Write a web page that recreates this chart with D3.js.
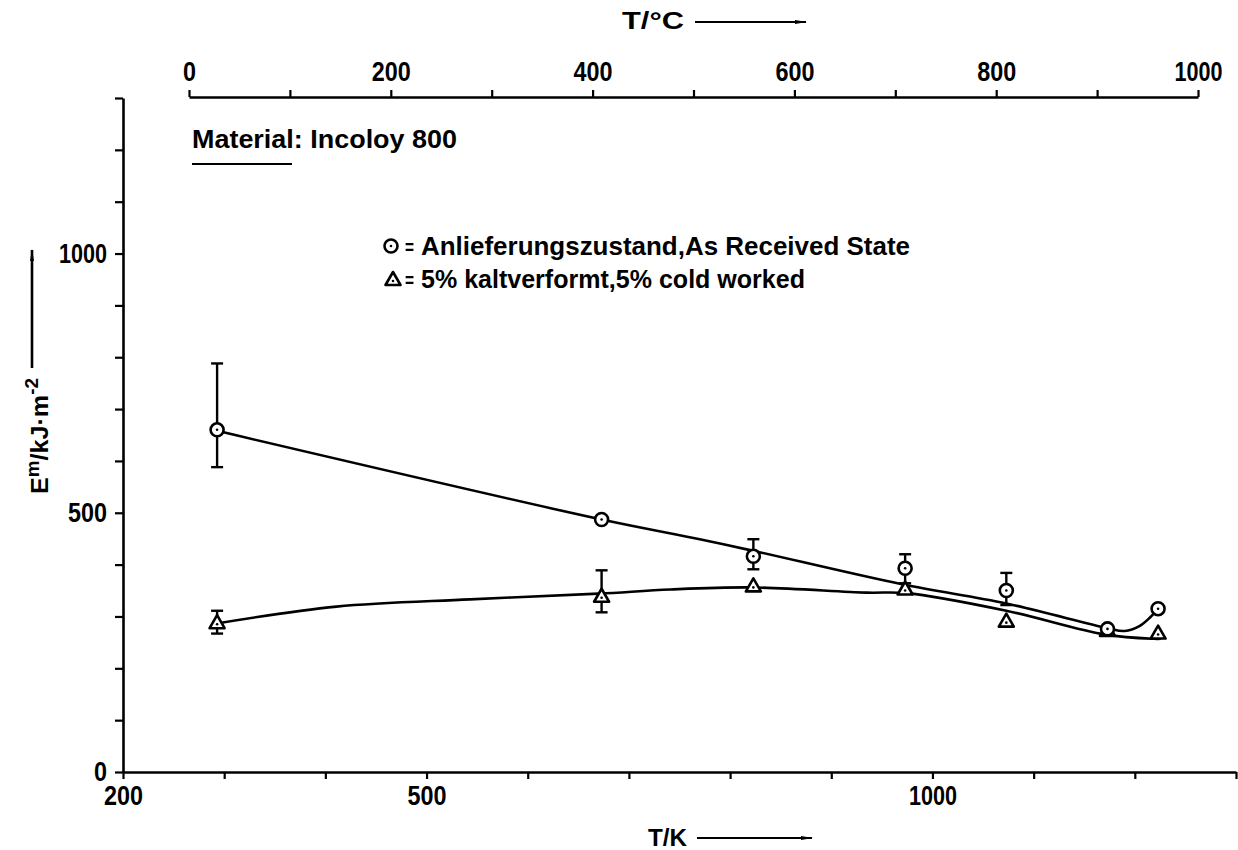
<html>
<head>
  <script src="https://d3js.org/d3.v7.min.js"></script>
  <style>
  body { margin: 0; background: #fff; }
  text { font-family: "Liberation Sans", Arial, sans-serif; font-weight: bold; fill: #000; }
  .axis path, .axis line { stroke: #000; }
  </style>
</head>
<body>
<svg width="1238" height="850"></svg>
<script>
// test temperatures in K (20, 400, 550, 700, 800, 900, 950 degC)
var tempK = [293, 673, 823, 973, 1073, 1173, 1223];

// as received state (circles)
var recv    = [660, 487, 416, 393, 350, 276, 315];
var recvHi  = [788, null, 449, 420, 384, null, null];
var recvLo  = [588, null, 391, 364, 322, null, null];
// 5% cold worked (triangles)
var cold    = [287, 338, 358, 352, 290, 272, 267];
var coldHi  = [311, 389, null, null, null, null, null];
var coldLo  = [267, 308, null, null, null, null, null];

// hand drawn fit curves [K, value]
var recvCurve = [[293,658],[673,487],[770,449],[822,427],[970,362],[1073,325],[1172,278],[1190,272],[1205,282],[1215,298],[1223,315]];
var coldCurve = [[291,286],[411,319],[543,333],[670,344],[741,352],[822,356],[935,346],[974,345],[1073,311],[1171,265],[1219,257],[1226,257]];

var kTicks = d3.range(200, 1301, 100);
var kLabels = [200, 500, 1000];
var cTicks = d3.range(0, 1001, 100);
var cLabels = [0, 200, 400, 600, 800, 1000];
var yTicks = d3.range(0, 1301, 100);
var yLabels = [0, 500, 1000];

var svg = d3.select("svg");
var xK = d3.scaleLinear().domain([200, 1300]).range([123, 1236]);
var xC = d3.scaleLinear().domain([0, 1000]).range([189, 1198]);
var y = d3.scaleLinear().domain([0, 1300]).range([772, 98]);

// narrow, tall lettering like the original typesetting
function squeeze(sel, w) {
  sel.attr("textLength", w).attr("lengthAdjust", "spacingAndGlyphs");
}

function styleAxis(g) {
  g.attr("class", "axis");
  g.select(".domain").attr("stroke-width", 2.6);
  g.selectAll(".tick line").attr("stroke-width", 2.2);
  g.selectAll("text").attr("font-size", 27).attr("font-family", null)
    .each(function(){
      var s = d3.select(this), t = s.text();
      if (t.length) squeeze(s, 13 * t.length - (t[0] == "1" ? 4 : 0));
    });
}

svg.append("g").attr("transform", "translate(0,772)")
  .call(d3.axisBottom(xK).tickValues(kTicks).tickSize(7).tickSizeOuter(0).tickPadding(7)
    .tickFormat(function(d){ return kLabels.indexOf(d) >= 0 ? d : ""; }))
  .call(styleAxis);

svg.append("g").attr("transform", "translate(0,97)")
  .call(d3.axisTop(xC).tickValues(cTicks).tickSize(7).tickSizeOuter(0).tickPadding(9)
    .tickFormat(function(d){ return cLabels.indexOf(d) >= 0 ? d : ""; }))
  .call(styleAxis);

svg.append("g").attr("transform", "translate(" + xK(200) + ",0)")
  .call(d3.axisLeft(y).tickValues(yTicks).tickSize(8).tickSizeOuter(0).tickPadding(8)
    .tickFormat(function(d){ return yLabels.indexOf(d) >= 0 ? d : ""; }))
  .call(styleAxis);

// arrowheads
svg.append("defs").append("marker").attr("id", "arr")
  .attr("viewBox", "0 0 12 6").attr("refX", 11).attr("refY", 3)
  .attr("markerWidth", 12).attr("markerHeight", 6).attr("markerUnits", "userSpaceOnUse")
  .attr("orient", "auto")
  .append("path").attr("d", "M0,1 L12,3 L0,5 Z").attr("fill", "#000");

// axis titles
svg.append("text").attr("x", 622).attr("y", 29).attr("font-size", 24).text("T/°C")
  .call(squeeze, 62);
svg.append("line").attr("x1", 695).attr("x2", 806).attr("y1", 22).attr("y2", 22)
  .attr("stroke", "#000").attr("stroke-width", 2).attr("marker-end", "url(#arr)");

svg.append("text").attr("x", 648).attr("y", 846).attr("font-size", 24).text("T/K")
  .call(squeeze, 39);
svg.append("line").attr("x1", 697).attr("x2", 812).attr("y1", 838).attr("y2", 838)
  .attr("stroke", "#000").attr("stroke-width", 2).attr("marker-end", "url(#arr)");

var yt = svg.append("text").attr("transform", "translate(48,494) rotate(-90)").attr("font-size", 24);
yt.append("tspan").text("E");
yt.append("tspan").attr("dy", -9).attr("font-size", 18).text("m");
yt.append("tspan").attr("dy", 9).text("/kJ·m");
yt.append("tspan").attr("dy", -10).attr("font-size", 18).text("-2");
yt.call(squeeze, 116);
svg.append("line").attr("x1", 32).attr("x2", 32).attr("y1", 368).attr("y2", 250)
  .attr("stroke", "#000").attr("stroke-width", 2.6).attr("marker-end", "url(#arr)");

// material note
svg.append("text").attr("x", 192).attr("y", 148).attr("font-size", 25)
  .text("Material: Incoloy 800").call(squeeze, 265);
svg.append("line").attr("x1", 192).attr("x2", 292).attr("y1", 164).attr("y2", 164)
  .attr("stroke", "#000").attr("stroke-width", 1.8);

// fit curves
var line = d3.line().x(function(d){ return xK(d[0]); }).y(function(d){ return y(d[1]); })
  .curve(d3.curveCatmullRom.alpha(0.5));
[recvCurve, coldCurve].forEach(function(c){
  svg.append("path").attr("d", line(c)).attr("fill", "none")
    .attr("stroke", "#000").attr("stroke-width", 2.6);
});

// error bars
function errorBars(hi, lo) {
  tempK.forEach(function(t, i){
    if (hi[i] == null) return;
    var x = xK(t);
    var g = svg.append("g").attr("stroke", "#000").attr("stroke-width", 2.4);
    g.append("line").attr("x1", x).attr("x2", x).attr("y1", y(hi[i])).attr("y2", y(lo[i]));
    g.append("line").attr("x1", x - 6).attr("x2", x + 6).attr("y1", y(hi[i])).attr("y2", y(hi[i]));
    g.append("line").attr("x1", x - 6).attr("x2", x + 6).attr("y1", y(lo[i])).attr("y2", y(lo[i]));
  });
}
errorBars(recvHi, recvLo);
errorBars(coldHi, coldLo);

function circleMark(x, yy) {
  svg.append("circle").attr("cx", x).attr("cy", yy).attr("r", 6.5)
    .attr("fill", "#fff").attr("stroke", "#000").attr("stroke-width", 2.6);
  svg.append("circle").attr("cx", x).attr("cy", yy).attr("r", 1.3).attr("fill", "#000");
}
function triMark(x, yy) {
  svg.append("path").attr("d", "M" + x + "," + (yy - 8) + " L" + (x + 7.5) + "," + (yy + 5) + " L" + (x - 7.5) + "," + (yy + 5) + " Z")
    .attr("fill", "#fff").attr("stroke", "#000").attr("stroke-width", 2.6).attr("stroke-linejoin", "round");
  svg.append("circle").attr("cx", x).attr("cy", yy + 1).attr("r", 1.3).attr("fill", "#000");
}

tempK.forEach(function(t, i){ triMark(xK(t), y(cold[i])); });
tempK.forEach(function(t, i){ circleMark(xK(t), y(recv[i])); });

// legend
circleMark(391, 246);
svg.append("text").attr("x", 405).attr("y", 254).attr("font-size", 20).text("=").call(squeeze, 9);
svg.append("text").attr("x", 421).attr("y", 255).attr("font-size", 25)
  .text("Anlieferungszustand,As Received State").call(squeeze, 489);
triMark(393, 280);
svg.append("text").attr("x", 405).attr("y", 287).attr("font-size", 20).text("=").call(squeeze, 9);
svg.append("text").attr("x", 421).attr("y", 288).attr("font-size", 25)
  .text("5% kaltverformt,5% cold worked").call(squeeze, 384);
</script>
</body></html>
